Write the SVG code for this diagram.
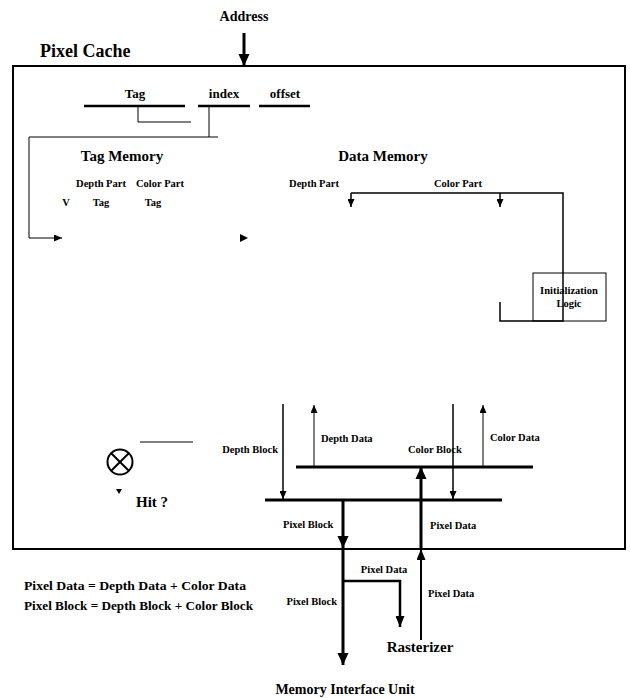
<svg xmlns="http://www.w3.org/2000/svg" width="630" height="698" viewBox="0 0 630 698">
<style>
text{font-family:"Liberation Serif","Times New Roman",serif;font-weight:bold;fill:#000}
.t18{font-size:18px}.t15{font-size:15px}.t14{font-size:14px}.t13{font-size:13px}.t11{font-size:10.5px}.t12{font-size:12px}
.m{text-anchor:middle}.e{text-anchor:end}
.ln{fill:none;stroke:#000}
.w1{stroke-width:1}.w15{stroke-width:1.5}.w2{stroke-width:2}.w25{stroke-width:2.5}.w3{stroke-width:3}
</style>
<defs>
<marker id="big" markerUnits="userSpaceOnUse" markerWidth="12" markerHeight="12" refX="13" refY="6" orient="auto" viewBox="0 0 13 12"><path d="M0,0 L13,6 L0,12 z" fill="#000"/></marker>
<marker id="mid" markerUnits="userSpaceOnUse" markerWidth="11" markerHeight="9" refX="11" refY="4.5" orient="auto" viewBox="0 0 11 9"><path d="M0,0 L11,4.5 L0,9 z" fill="#000"/></marker>
<marker id="sml" markerUnits="userSpaceOnUse" markerWidth="8" markerHeight="7" refX="8" refY="3.5" orient="auto" viewBox="0 0 8 7"><path d="M0,0 L8,3.5 L0,7 z" fill="#000"/></marker>
</defs>

<g id="pixel-cache">
<rect x="13" y="66" width="612" height="483" class="ln w2"/>
<text x="40" y="57" class="t18">Pixel Cache</text>
</g>

<g id="address">
<text x="244" y="21" class="t14 m">Address</text>
</g>

<g id="address-fields">
<text x="135" y="98" class="t13 m">Tag</text>
<text x="224" y="98" class="t13 m">index</text>
<text x="285" y="98" class="t13 m">offset</text>
<line x1="84" y1="106" x2="185" y2="106" class="ln w25"/>
<line x1="198" y1="106" x2="250" y2="106" class="ln w25"/>
<line x1="259" y1="106" x2="310" y2="106" class="ln w25"/>
</g>

<g id="tag-memory">
<text x="122" y="161" class="t15 m">Tag Memory</text>
<text x="101" y="187" class="t11 m">Depth Part</text>
<text x="160" y="187" class="t11 m">Color Part</text>
<text x="66" y="206" class="t11 m">V</text>
<text x="101" y="206" class="t11 m">Tag</text>
<text x="153" y="206" class="t11 m">Tag</text>
</g>

<g id="data-memory">
<text x="383" y="161" class="t15 m">Data Memory</text>
<text x="314" y="187" class="t11 m">Depth Part</text>
<text x="458" y="187" class="t11 m">Color Part</text>
</g>

<g id="init-logic">
<rect x="533" y="273" width="73" height="48" class="ln w1"/>
<text x="569" y="294" class="t11 m">Initialization</text>
<text x="569" y="307" class="t11 m">Logic</text>
</g>

<g id="hit">
<circle cx="120" cy="462" r="12.5" class="ln w2"/>
<line x1="111.2" y1="453.2" x2="128.8" y2="470.8" class="ln w2"/>
<line x1="128.8" y1="453.2" x2="111.2" y2="470.8" class="ln w2"/>
<text x="136" y="507" class="t15">Hit ?</text>
</g>

<g id="rasterizer">
<text x="420" y="652" class="t15 m">Rasterizer</text>
</g>

<g id="memory-interface-unit">
<text x="345" y="694" class="t14 m">Memory Interface Unit</text>
</g>

<g id="legend">
<text x="24" y="590" class="t12" textLength="222" lengthAdjust="spacingAndGlyphs">Pixel Data = Depth Data + Color Data</text>
<text x="24" y="610" class="t12" textLength="229" lengthAdjust="spacingAndGlyphs">Pixel Block = Depth Block + Color Block</text>
</g>

<g id="connectors">
<line x1="244" y1="33" x2="244" y2="66" class="ln w3" marker-end="url(#big)"/>
<polyline points="138,106 138,122 191,122" class="ln w1"/>
<polyline points="209,106 209,137" class="ln w1"/>
<line x1="29" y1="137" x2="218" y2="137" class="ln w1"/>
<polyline points="29,137 29,238 62,238" class="ln w1" marker-end="url(#sml)"/>
<polygon points="240,234 248,238 240,242" fill="#000"/>
<line x1="351" y1="193" x2="351" y2="207" class="ln w15" marker-end="url(#sml)"/>
<line x1="500" y1="193" x2="500" y2="207" class="ln w15" marker-end="url(#sml)"/>
<polyline points="351,193 563,193 563,321 500,321 500,302" class="ln w15"/>
<line x1="140" y1="442" x2="193" y2="442" class="ln w1"/>
<polygon points="116,489 122,489 119,494" fill="#000"/>
<line x1="283" y1="404" x2="283" y2="499" class="ln w15" marker-end="url(#sml)"/>
<line x1="314" y1="467" x2="314" y2="405" class="ln w1" marker-end="url(#sml)"/>
<line x1="453" y1="404" x2="453" y2="499" class="ln w15" marker-end="url(#sml)"/>
<line x1="483" y1="467" x2="483" y2="405" class="ln w1" marker-end="url(#sml)"/>
<line x1="296" y1="467" x2="533" y2="467" class="ln w3"/>
<line x1="265" y1="500" x2="502" y2="500" class="ln w3"/>
<line x1="421" y1="548" x2="421" y2="467" class="ln w3" marker-end="url(#big)"/>
<line x1="343" y1="500" x2="343" y2="548" class="ln w3" marker-end="url(#big)"/>
<line x1="343" y1="548" x2="343" y2="665" class="ln w3" marker-end="url(#big)"/>
<polyline points="343,581 400,581 400,627" class="ln w25" marker-end="url(#mid)"/>
<line x1="421" y1="640" x2="421" y2="549" class="ln w2" marker-end="url(#mid)"/>
</g>

<g id="connector-labels">
<text x="278" y="453" class="t11 e">Depth Block</text>
<text x="321" y="442" class="t11">Depth Data</text>
<text x="408" y="453" class="t11">Color Block</text>
<text x="490" y="441" class="t11">Color Data</text>
<text x="283" y="528" class="t11">Pixel Block</text>
<text x="430" y="529" class="t11">Pixel Data</text>
<text x="384" y="573" class="t11 m">Pixel Data</text>
<text x="428" y="597" class="t11">Pixel Data</text>
<text x="337" y="605" class="t11 e">Pixel Block</text>
</g>
</svg>
